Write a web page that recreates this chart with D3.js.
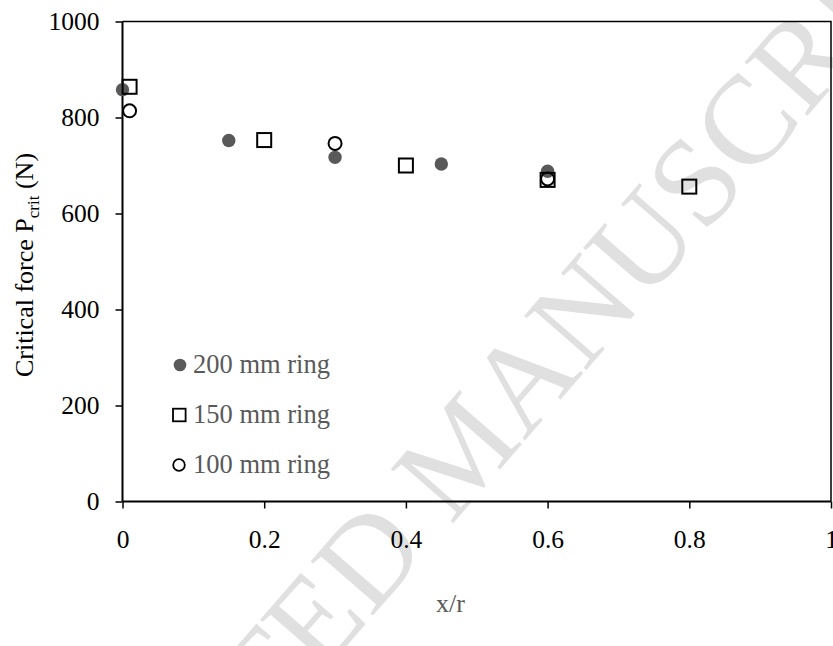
<!DOCTYPE html>
<html>
<head>
<meta charset="utf-8">
<script src="https://cdn.jsdelivr.net/npm/d3@7"></script>
<style>
  html, body { margin: 0; padding: 0; background: #fff; }
  svg { display: block; }
  text { font-family: "Liberation Serif", "Times New Roman", serif; }
</style>
</head>
<body>
<svg id="chart" width="833" height="646"></svg>
<script>
// Critical force versus relative position x/r for three ring diameters
const ring200X = [0, 0.15, 0.3, 0.45, 0.6];
const ring200Y = [858, 752, 717, 703, 688];
const ring150X = [0.01, 0.2, 0.4, 0.6, 0.8];
const ring150Y = [864, 753, 700, 670, 656];
const ring100X = [0.01, 0.3, 0.6];
const ring100Y = [814, 746, 672];
const xTicks = [0, 0.2, 0.4, 0.6, 0.8, 1];
const yTicks = [0, 200, 400, 600, 800, 1000];
const legendLabels = ["200 mm ring", "150 mm ring", "100 mm ring"];

const svg = d3.select("#chart");
const x = d3.scaleLinear().domain([0, 1]).range([122.5, 831]);
const y = d3.scaleLinear().domain([0, 1000]).range([501.5, 21.5]);

// background stamp
svg.append("text")
  .attr("transform", "translate(3,1041) rotate(-49)")
  .attr("font-size", 126)
  .attr("fill", "#e0e0e0")
  .text("ACCEPTED MANUSCRIPT");

// top and right frame
svg.append("path")
  .attr("d", `M${x(0)},${y(1000)}H${x(1)}V${y(0)}`)
  .attr("fill", "none").attr("stroke", "#000").attr("stroke-width", 1.5);

const xAxis = svg.append("g")
  .attr("transform", `translate(0,${y(0)})`)
  .call(d3.axisBottom(x).tickValues(xTicks).tickSize(7).tickPadding(21)
    .tickFormat(d => d === 0 || d === 1 ? d3.format("d")(d) : d3.format(".1f")(d)));
xAxis.select(".domain").attr("d", `M${x(0)},0H${x(1)}`).attr("stroke-width", 2);
xAxis.selectAll(".tick line").attr("stroke-width", 1.5);
xAxis.selectAll("text").attr("font-size", 25.5).attr("fill", "#000");

const yAxis = svg.append("g")
  .attr("transform", `translate(${x(0)},0)`)
  .call(d3.axisLeft(y).tickValues(yTicks).tickSize(7).tickPadding(16).tickFormat(d3.format("d")));
yAxis.select(".domain").attr("d", `M0,${y(0)}V${y(1000)}`).attr("stroke-width", 2);
yAxis.selectAll(".tick line").attr("stroke-width", 1.5);
yAxis.selectAll("text").attr("font-size", 25.5).attr("fill", "#000");

// axis titles
const yTitle = svg.append("text")
  .attr("transform", "translate(33,265) rotate(-90)")
  .attr("text-anchor", "middle")
  .attr("font-size", 26)
  .attr("fill", "#000");
yTitle.append("tspan").text("Critical force P");
yTitle.append("tspan").attr("font-size", 17).attr("dy", 6).text("crit");
yTitle.append("tspan").attr("dy", -6).text(" (N)");

svg.append("text")
  .attr("x", 450.5).attr("y", 612)
  .attr("text-anchor", "middle")
  .attr("font-size", 26)
  .attr("fill", "#595959")
  .text("x/r");

// markers
const pts200 = ring200X.map((v, i) => [v, ring200Y[i]]);
const pts150 = ring150X.map((v, i) => [v, ring150Y[i]]);
const pts100 = ring100X.map((v, i) => [v, ring100Y[i]]);

svg.append("g").selectAll("circle").data(pts200).join("circle")
  .attr("cx", d => x(d[0])).attr("cy", d => y(d[1])).attr("r", 6.7)
  .attr("fill", "#595959");

svg.append("g").selectAll("rect").data(pts150).join("rect")
  .attr("x", d => x(d[0]) - 7).attr("y", d => y(d[1]) - 7)
  .attr("width", 14).attr("height", 14)
  .attr("fill", "none").attr("stroke", "#000").attr("stroke-width", 2);

svg.append("g").selectAll("circle").data(pts100).join("circle")
  .attr("cx", d => x(d[0])).attr("cy", d => y(d[1])).attr("r", 6.5)
  .attr("fill", "none").attr("stroke", "#000").attr("stroke-width", 2);

// legend
const legendY = [365, 415, 465];
const lg = svg.append("g");
lg.append("circle").attr("cx", 180).attr("cy", legendY[0]).attr("r", 6.3).attr("fill", "#595959");
lg.append("rect").attr("x", 173).attr("y", legendY[1] - 6.3).attr("width", 12.6).attr("height", 12.6)
  .attr("fill", "none").attr("stroke", "#000").attr("stroke-width", 1.8);
lg.append("circle").attr("cx", 179).attr("cy", legendY[2]).attr("r", 5.8)
  .attr("fill", "none").attr("stroke", "#000").attr("stroke-width", 1.8);
lg.selectAll("text.lab").data(legendLabels).join("text")
  .attr("class", "lab")
  .attr("x", 193).attr("y", (d, i) => legendY[i] + 8)
  .attr("font-size", 26.5)
  .attr("fill", "#595959")
  .text(d => d);
</script>
</body>
</html>
